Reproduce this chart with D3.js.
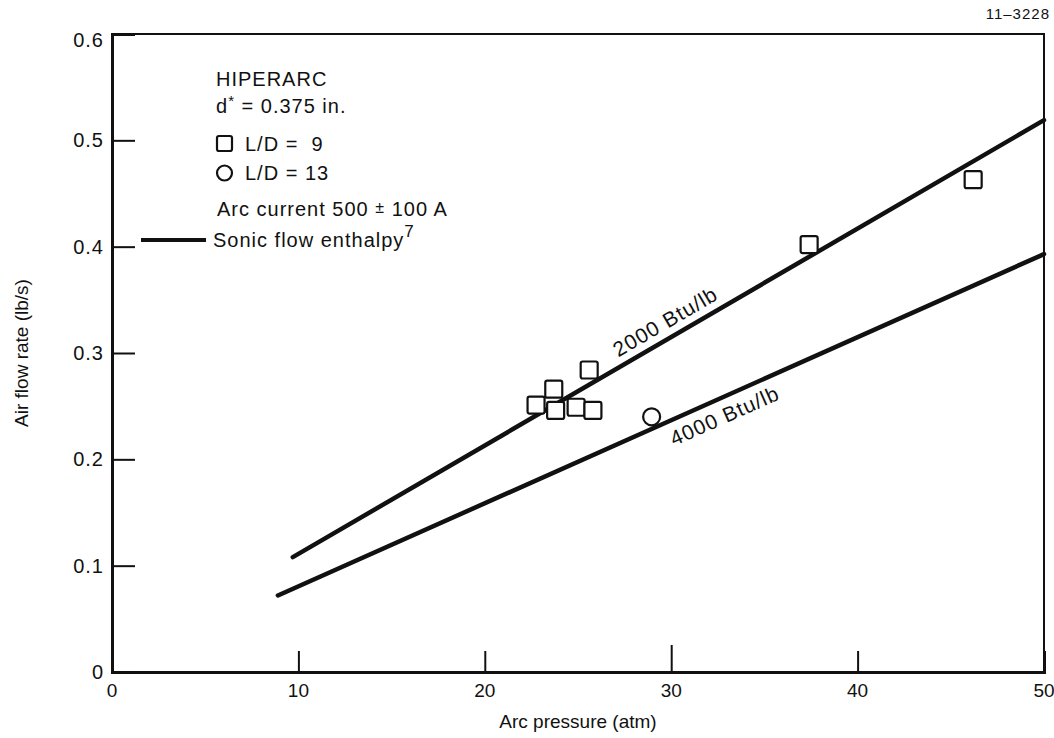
<!DOCTYPE html>
<html>
<head>
<meta charset="utf-8">
<script src="https://cdn.jsdelivr.net/npm/d3@7"></script>
<style>
  body { margin: 0; background: #fff; }
  svg { display: block; }
  text { fill: #111; font-family: "Liberation Sans", Arial, sans-serif; }
</style>
</head>
<body>
<div id="chart"></div>
<script>
// measured points, L/D = 9 (squares)
const pressureL9 = [22.75, 23.7, 23.8, 24.9, 25.6, 25.8, 37.4, 46.2];
const flowL9 = [0.251, 0.266, 0.246, 0.249, 0.284, 0.246, 0.402, 0.463];
// L/D = 13 (circle)
const pressureL13 = [28.95];
const flowL13 = [0.240];

// sonic flow enthalpy lines (end points)
const enthalpyNames = ['2000 Btu/lb', '4000 Btu/lb'];
const enthalpyPressure = [[9.7, 50], [8.9, 50]];
const enthalpyFlow = [[0.108, 0.519], [0.072, 0.393]];
const labelPressure = [27.4, 29.6];

const xTicks = [0, 10, 20, 30, 40, 50];
const yTicks = [0, 0.1, 0.2, 0.3, 0.4, 0.5, 0.6];
const xTickLabels = ['0', '10', '20', '30', '40', '50'];
const yTickLabels = ['0', '0.1', '0.2', '0.3', '0.4', '0.5', '0.6'];

const width = 1054;
const height = 738;
const margin = { top: 34, left: 112, right: 10, bottom: 66 };

const svg = d3.select('#chart').append('svg')
  .attr('width', width)
  .attr('height', height);

// scales
const x = d3.scaleLinear()
  .domain([0, 50])
  .range([margin.left, width - margin.right]);
const y = d3.scaleLinear()
  .domain([0, 0.6])
  .range([height - margin.bottom, margin.top]);

// frame: top + right are thin, axes heavier
svg.append('rect')
  .attr('x', x(0))
  .attr('y', y(0.6))
  .attr('width', x(50) - x(0))
  .attr('height', y(0) - y(0.6))
  .attr('fill', 'none')
  .attr('stroke', '#111')
  .attr('stroke-width', 2);

// axes, ticks point inward
const xAxis = svg.append('g')
  .attr('transform', `translate(0, ${y(0)})`)
  .call(d3.axisTop(x).tickValues(xTicks).tickSize(21).tickFormat(''));
const yAxis = svg.append('g')
  .attr('transform', `translate(${x(0)}, 0)`)
  .call(d3.axisRight(y).tickValues(yTicks).tickSize(23).tickFormat(''));
[xAxis, yAxis].forEach(a => {
  a.select('.domain').attr('stroke', '#111').attr('stroke-width', 3);
  a.selectAll('.tick line').attr('stroke', '#111').attr('stroke-width', 2);
});
// the 30 tick is drawn a little longer in the original
xAxis.selectAll('.tick line').filter(d => d === 30).attr('y2', -27);

svg.append('g').selectAll('text')
  .data(xTicks).enter()
  .append('text')
    .attr('x', d => x(d))
    .attr('y', y(0) + 25)
    .attr('text-anchor', 'middle')
    .attr('font-size', 19)
    .text((d, i) => xTickLabels[i]);

svg.append('g').selectAll('text')
  .data(yTicks).enter()
  .append('text')
    .attr('x', x(0) - 8)
    .attr('y', d => y(d) + (d === 0.6 ? 13 : 7))
    .attr('text-anchor', 'end')
    .attr('font-size', 20)
    .attr('letter-spacing', 1)
    .text((d, i) => yTickLabels[i]);

// axis titles
svg.append('text')
  .attr('x', (x(0) + x(50)) / 2)
  .attr('y', height - 10)
  .attr('text-anchor', 'middle')
  .attr('font-size', 19)
  .text('Arc pressure (atm)');
svg.append('text')
  .attr('transform', `translate(28, ${(y(0) + y(0.6)) / 2}) rotate(-90)`)
  .attr('text-anchor', 'middle')
  .attr('font-size', 19)
  .text('Air flow rate (lb/s)');

svg.append('text')
  .attr('x', width - 4)
  .attr('y', 19)
  .attr('text-anchor', 'end')
  .attr('font-size', 15)
  .attr('letter-spacing', 1)
  .text('11\u20133228');

// sonic flow lines
const line = d3.line()
  .x(d => x(d[0]))
  .y(d => y(d[1]));
const lines = svg.append('g');
enthalpyNames.forEach((name, i) => {
  const pts = enthalpyPressure[i].map((p, j) => [p, enthalpyFlow[i][j]]);
  lines.append('path')
    .attr('d', line(pts))
    .attr('fill', 'none')
    .attr('stroke', '#111')
    .attr('stroke-width', 4.5)
    .attr('stroke-linecap', 'round');

  const angle = Math.atan2(y(pts[1][1]) - y(pts[0][1]), x(pts[1][0]) - x(pts[0][0])) * 180 / Math.PI;
  const t = (labelPressure[i] - pts[0][0]) / (pts[1][0] - pts[0][0]);
  const ly = pts[0][1] + t * (pts[1][1] - pts[0][1]);
  lines.append('text')
    .attr('transform', `translate(${x(labelPressure[i])}, ${y(ly)}) rotate(${angle})`)
    .attr('y', i === 0 ? -9 : 25)
    .attr('font-size', 21)
    .attr('letter-spacing', 1)
    .text(name);
});

// points
const squareSize = 17;
svg.append('g').selectAll('rect')
  .data(pressureL9).enter()
  .append('rect')
    .attr('x', d => x(d) - squareSize / 2)
    .attr('y', (d, i) => y(flowL9[i]) - squareSize / 2)
    .attr('width', squareSize)
    .attr('height', squareSize)
    .attr('rx', 2)
    .attr('fill', '#fff')
    .attr('stroke', '#111')
    .attr('stroke-width', 2.2);
svg.append('g').selectAll('circle')
  .data(pressureL13).enter()
  .append('circle')
    .attr('cx', d => x(d))
    .attr('cy', (d, i) => y(flowL13[i]))
    .attr('r', 8.5)
    .attr('fill', '#fff')
    .attr('stroke', '#111')
    .attr('stroke-width', 2.2);

// legend
const legend = svg.append('g')
  .attr('font-size', 20)
  .attr('letter-spacing', 1);
legend.append('text').attr('x', 216).attr('y', 86).text('HIPERARC');
legend.append('text').attr('x', 216).attr('y', 113)
  .call(t => {
    t.append('tspan').text('d');
    t.append('tspan').attr('dy', -7).attr('font-size', 15).text('*');
    t.append('tspan').attr('dy', 7).text(' = 0.375 in.');
  });
legend.append('rect')
  .attr('x', 217).attr('y', 136)
  .attr('width', 15).attr('height', 15)
  .attr('rx', 2)
  .attr('fill', 'none').attr('stroke', '#111').attr('stroke-width', 2.2);
legend.append('text').attr('x', 245).attr('y', 151).attr('xml:space', 'preserve').text('L/D =  9');
legend.append('circle')
  .attr('cx', 224.5).attr('cy', 173).attr('r', 7.5)
  .attr('fill', 'none').attr('stroke', '#111').attr('stroke-width', 2.2);
legend.append('text').attr('x', 245).attr('y', 180).text('L/D = 13');
legend.append('text').attr('x', 217).attr('y', 216)
  .call(t => {
    t.append('tspan').text('Arc current 500 ');
    t.append('tspan').attr('font-size', 16).attr('dy', -3).text('\u00b1');
    t.append('tspan').attr('dy', 3).text(' 100 A');
  });
legend.append('line')
  .attr('x1', 141).attr('x2', 206)
  .attr('y1', 240).attr('y2', 240)
  .attr('stroke', '#111').attr('stroke-width', 4);
legend.append('text').attr('x', 213).attr('y', 247)
  .call(t => {
    t.append('tspan').text('Sonic flow enthalpy');
    t.append('tspan').attr('dy', -10).attr('font-size', 17).text('7');
  });
</script>
</body>
</html>
